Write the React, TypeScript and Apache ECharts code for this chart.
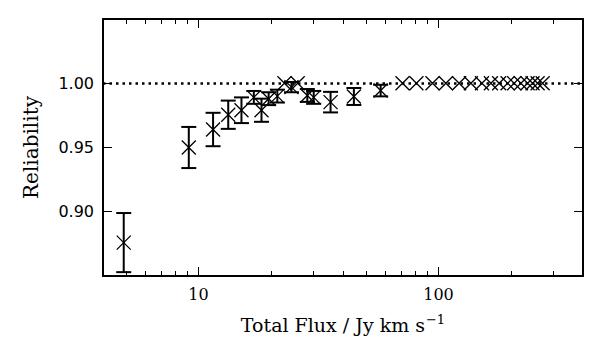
import React, { useEffect, useRef } from "react";
import * as echarts from "echarts";

// Total flux (Jy km/s) of each bin
const flux = [
  4.88, 9.11, 11.5, 13.3, 15.1, 17.0, 18.3, 19.6, 21.3, 22.8, 24.4, 25.9, 28.4,
  30.2, 35.5, 44.4, 57.4, 70.8, 80.9, 94.4, 107.3, 121.9, 136.4, 151.7, 165.3,
  179, 194, 206.7, 220.4, 235, 246.5, 258.8, 271.6,
];
// Reliability of each bin
const reliability = [
  0.876, 0.95, 0.964, 0.9755, 0.979, 0.989, 0.979, 0.988, 0.99, 1.0, 0.997, 1.0,
  0.9905, 0.989, 0.9853, 0.9897, 0.9943, 1, 1, 1, 1, 1, 1, 1, 1, 1, 1, 1, 1, 1,
  1, 1, 1,
];
// Error bar half-lengths
const errors = [
  0.023, 0.016, 0.013, 0.011, 0.01, 0.005, 0.009, 0.005, 0.005, 0, 0.004, 0,
  0.005, 0.005, 0.008, 0.0066, 0.0045, 0, 0, 0, 0, 0, 0, 0, 0, 0, 0, 0, 0, 0,
  0, 0, 0,
];
const xMajorTicks = [10, 100];
const xMinorTicks = [5, 6, 7, 8, 9, 20, 30, 40, 50, 60, 70, 80, 90, 200, 300];
const yLabelled = [0.9, 0.95, 1.0];

const SERIF = "'DejaVu Serif', 'Liberation Serif', serif";
const SANS = "'DejaVu Sans', sans-serif";

export default function App() {
  const ref = useRef<HTMLDivElement>(null);
  useEffect(() => {
    document.body.style.margin = "0";
    if (!ref.current) return;
    const chart = echarts.init(ref.current, undefined, { renderer: "svg" });
    const baseX = {
      type: "log" as const,
      logBase: 10,
      min: 4,
      max: 400,
      splitLine: { show: false },
      axisPointer: { show: false },
    };
    const line = { show: true, onZero: false, lineStyle: { color: "#000", width: 2 } };
    const noLine = { show: false };
    const tickStyle = { color: "#000", width: 1 };
    chart.setOption({
      animation: false,
      backgroundColor: "#fff",
      grid: { left: 103, right: 17, top: 19, bottom: 86, containLabel: false },
      xAxis: [
        {
          ...baseX,
          position: "bottom",
          axisLine: line,
          axisTick: { show: true, inside: true, length: 9, customValues: xMajorTicks, lineStyle: tickStyle },
          axisLabel: {
            customValues: xMajorTicks,
            formatter: (v: number) => String(Math.round(v)),
            fontFamily: SERIF,
            fontSize: 16,
            color: "#000",
            margin: 10,
          },
          name: "{a|Total Flux / Jy km s}{b|−1}",
          nameLocation: "middle",
          nameGap: 37,
          nameTextStyle: {
            rich: {
              a: { fontFamily: SERIF, fontSize: 19, color: "#000", lineHeight: 24 },
              b: { fontFamily: SERIF, fontSize: 13, color: "#000", verticalAlign: "top", lineHeight: 15, padding: [0, 0, 0, 1] },
            },
          },
        },
        {
          ...baseX,
          position: "bottom",
          axisLine: noLine,
          axisTick: { show: true, inside: true, length: 5, customValues: xMinorTicks, lineStyle: tickStyle },
          axisLabel: { show: false },
        },
        {
          ...baseX,
          position: "top",
          axisLine: line,
          axisTick: { show: true, inside: true, length: 9, customValues: xMajorTicks, lineStyle: tickStyle },
          axisLabel: { show: false },
        },
        {
          ...baseX,
          position: "top",
          axisLine: noLine,
          axisTick: { show: true, inside: true, length: 5, customValues: xMinorTicks, lineStyle: tickStyle },
          axisLabel: { show: false },
        },
      ],
      yAxis: [
        {
          type: "value",
          position: "left",
          min: 0.85,
          max: 1.05,
          interval: 0.05,
          splitLine: { show: false },
          axisLine: line,
          axisTick: { show: true, inside: true, length: 9, lineStyle: tickStyle },
          axisLabel: {
            formatter: (v: number) => {
              const r = Math.round(v * 100) / 100;
              return yLabelled.some((y) => Math.abs(y - r) < 1e-6) ? r.toFixed(2) : "";
            },
            fontFamily: SANS,
            fontSize: 16,
            color: "#000",
            margin: 9,
          },
          name: "Reliability",
          nameLocation: "middle",
          nameGap: 62,
          nameTextStyle: { fontFamily: SERIF, fontSize: 20, color: "#000" },
        },
        {
          type: "value",
          position: "right",
          min: 0.85,
          max: 1.05,
          interval: 0.05,
          splitLine: { show: false },
          axisLine: line,
          axisTick: { show: true, inside: true, length: 9, lineStyle: tickStyle },
          axisLabel: { show: false },
        },
      ],
      series: [
        {
          type: "custom",
          name: "errors",
          xAxisIndex: 0,
          yAxisIndex: 0,
          silent: true,
          data: flux.map((f, i) => [f, reliability[i] - errors[i], reliability[i] + errors[i], errors[i]]),
          renderItem: (params: any, api: any) => {
            if (api.value(3) <= 0) return null;
            const x = api.value(0);
            const lo = api.coord([x, api.value(1)]);
            const hi = api.coord([x, api.value(2)]);
            const cap = 7.5;
            const style = { stroke: "#000", lineWidth: 2 };
            return {
              type: "group",
              children: [
                { type: "line", shape: { x1: lo[0], y1: lo[1], x2: hi[0], y2: hi[1] }, style },
                { type: "line", shape: { x1: lo[0] - cap, y1: lo[1], x2: lo[0] + cap, y2: lo[1] }, style },
                { type: "line", shape: { x1: hi[0] - cap, y1: hi[1], x2: hi[0] + cap, y2: hi[1] }, style },
              ],
            };
          },
          z: 3,
        },
        {
          type: "scatter",
          name: "Reliability",
          xAxisIndex: 0,
          yAxisIndex: 0,
          data: flux.map((f, i) => [f, reliability[i]]),
          symbol: "path://M0,0L10,10M10,0L0,10",
          symbolSize: 14,
          itemStyle: { color: "none", borderColor: "#000", borderWidth: 1.3, opacity: 1 },
          z: 4,
          markLine: {
            silent: true,
            symbol: "none",
            label: { show: false },
            lineStyle: { color: "#000", width: 2.5, type: [2.5, 4] },
            data: [{ yAxis: 1.0 }],
          },
        },
      ],
    });
    return () => chart.dispose();
  }, []);
  return <div ref={ref} style={{ width: 600, height: 362 }} />;
}
